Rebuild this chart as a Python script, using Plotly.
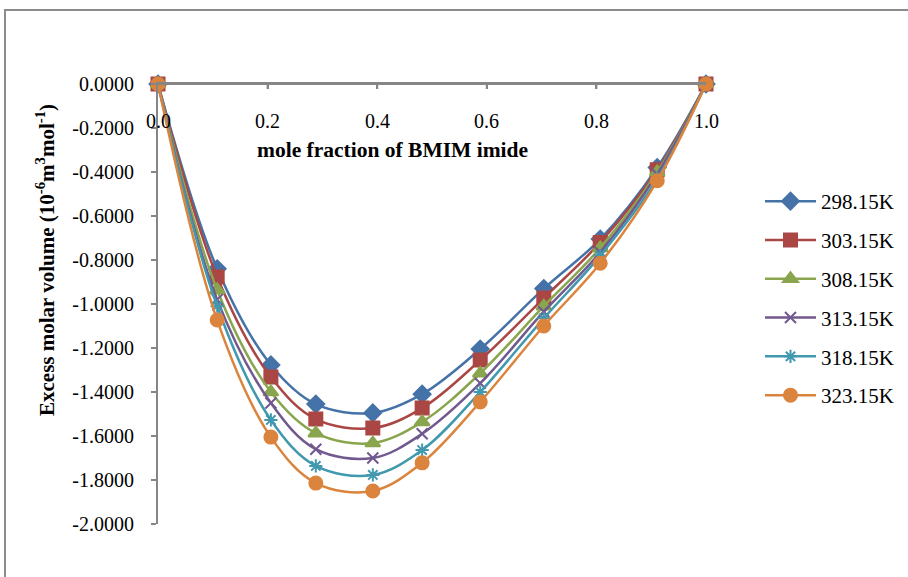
import plotly.graph_objects as go

x_frac = [0.0, 0.108, 0.206, 0.288, 0.392, 0.482, 0.588, 0.704, 0.807, 0.911, 1.0]

names = ["298.15K", "303.15K", "308.15K", "313.15K", "318.15K", "323.15K"]
v_29815 = [0.0, -0.84, -1.277, -1.455, -1.495, -1.41, -1.205, -0.93, -0.705, -0.38, 0.0]
v_30315 = [0.0, -0.877, -1.332, -1.523, -1.564, -1.473, -1.255, -0.973, -0.72, -0.39, 0.0]
v_30815 = [0.0, -0.936, -1.40, -1.587, -1.632, -1.536, -1.315, -1.01, -0.745, -0.40, 0.0]
v_31315 = [0.0, -0.98, -1.45, -1.66, -1.70, -1.59, -1.36, -1.035, -0.765, -0.41, 0.0]
v_31815 = [0.0, -1.01, -1.527, -1.736, -1.777, -1.664, -1.40, -1.065, -0.78, -0.43, 0.0]
v_32315 = [0.0, -1.073, -1.605, -1.814, -1.85, -1.722, -1.445, -1.10, -0.815, -0.44, 0.0]
series = [v_29815, v_30315, v_30815, v_31315, v_31815, v_32315]

y_tickvals = [0.0, -0.2, -0.4, -0.6, -0.8, -1.0, -1.2, -1.4, -1.6, -1.8, -2.0]
y_ticktext = ["0.0000", "-0.2000", "-0.4000", "-0.6000", "-0.8000", "-1.0000",
              "-1.2000", "-1.4000", "-1.6000", "-1.8000", "-2.0000"]
x_tickvals = [0.0, 0.2, 0.4, 0.6, 0.8, 1.0]
x_ticktext = ["0.0", "0.2", "0.4", "0.6", "0.8", "1.0"]

colors = ["#4572A7", "#AA4643", "#89A54E", "#71588F", "#4198AF", "#DB843D"]
symbols = ["diamond", "square", "triangle-up", "x-thin-open", "asterisk-open", "circle"]
sizes = [13, 13, 13, 11, 11, 13]

FONT = "Liberation Serif"
AXIS_GREY = "#868686"

fig = go.Figure()
for name, vals, c, s, sz in zip(names, series, colors, symbols, sizes):
    fig.add_trace(go.Scatter(
        x=x_frac, y=vals, name=name, mode="lines+markers",
        line=dict(color=c, width=2.5, shape="spline", smoothing=1.0),
        marker=dict(symbol=s, size=sz, color=c, line=dict(color=c, width=2)),
        legendgroup=name, cliponaxis=False,
    ))

# x tick labels sit below the zero line (axis crosses at y = 0)
x_label_annotations = [
    dict(text=t, x=v, xref="x", y=(524 - 121) / 440, yref="paper", showarrow=False,
         xanchor="center", yanchor="middle", font=dict(family=FONT, size=20))
    for v, t in zip(x_tickvals, x_ticktext)
]

# axis line along y = 0 and short downward tick marks at the x tick values
axis_shapes = [dict(type="line", xref="paper", yref="y", x0=0, x1=1, y0=0, y1=0,
                    line=dict(color=AXIS_GREY, width=2), layer="above")]
axis_shapes += [dict(type="line", xref="x", yref="paper", x0=v, x1=v,
                     y0=1, y1=1 - 5 / 440, line=dict(color=AXIS_GREY, width=2),
                     layer="above") for v in x_tickvals[1:-1]]

fig.update_layout(
    width=908, height=577,
    margin=dict(l=158, r=202, t=84, b=53, autoexpand=False),
    paper_bgcolor="white", plot_bgcolor="white",
    font=dict(family=FONT, size=20, color="black"),
    showlegend=True,
    legend=dict(x=(760 - 158) / 548, y=(524 - 181) / 440, xanchor="left", yanchor="top",
                font=dict(family=FONT, size=21), tracegroupgap=8.5, itemwidth=51,
                bgcolor="rgba(0,0,0,0)"),
    xaxis=dict(range=[0, 1.0], side="top", anchor="y",
               showline=True, linecolor=AXIS_GREY, linewidth=2,
               ticks="inside", ticklen=5, tickcolor=AXIS_GREY, tickwidth=2,
               tickvals=x_tickvals, showticklabels=False,
               showgrid=False, zeroline=False),
    yaxis=dict(range=[-2.0, 0.0], showline=True, linecolor=AXIS_GREY, linewidth=2,
               ticks="outside", ticklen=5, tickcolor=AXIS_GREY, tickwidth=2,
               tickvals=y_tickvals, ticktext=y_ticktext, ticklabelstandoff=13,
               showgrid=False, zeroline=False, tickfont=dict(family=FONT, size=20)),
    shapes=[dict(type="rect", xref="paper", yref="paper",
                 x0=(5 - 158) / 548, x1=(930 - 158) / 548,
                 y0=(524 - 600) / 440, y1=(524 - 10) / 440,
                 line=dict(color="#8c8c8c", width=2), fillcolor="rgba(0,0,0,0)",
                 layer="below")] + axis_shapes,
    annotations=x_label_annotations + [
        dict(text="<b>mole fraction of BMIM imide</b>", xref="paper", yref="paper",
             x=(392 - 158) / 548, y=(524 - 150) / 440, showarrow=False,
             xanchor="center", yanchor="middle", font=dict(family=FONT, size=21.5)),
        dict(text="<b>Excess molar volume (10<sup>-6</sup>m<sup>3</sup>mol<sup>-1</sup>)</b>",
             xref="paper", yref="paper", x=(45 - 158) / 548, y=(524 - 260) / 440,
             showarrow=False, textangle=-90, xanchor="center", yanchor="middle",
             font=dict(family=FONT, size=21)),
    ],
)

fig.write_html("out.html", config={"displayModeBar": False},
               post_script="document.body.style.margin='0';document.body.style.overflow='hidden';")
